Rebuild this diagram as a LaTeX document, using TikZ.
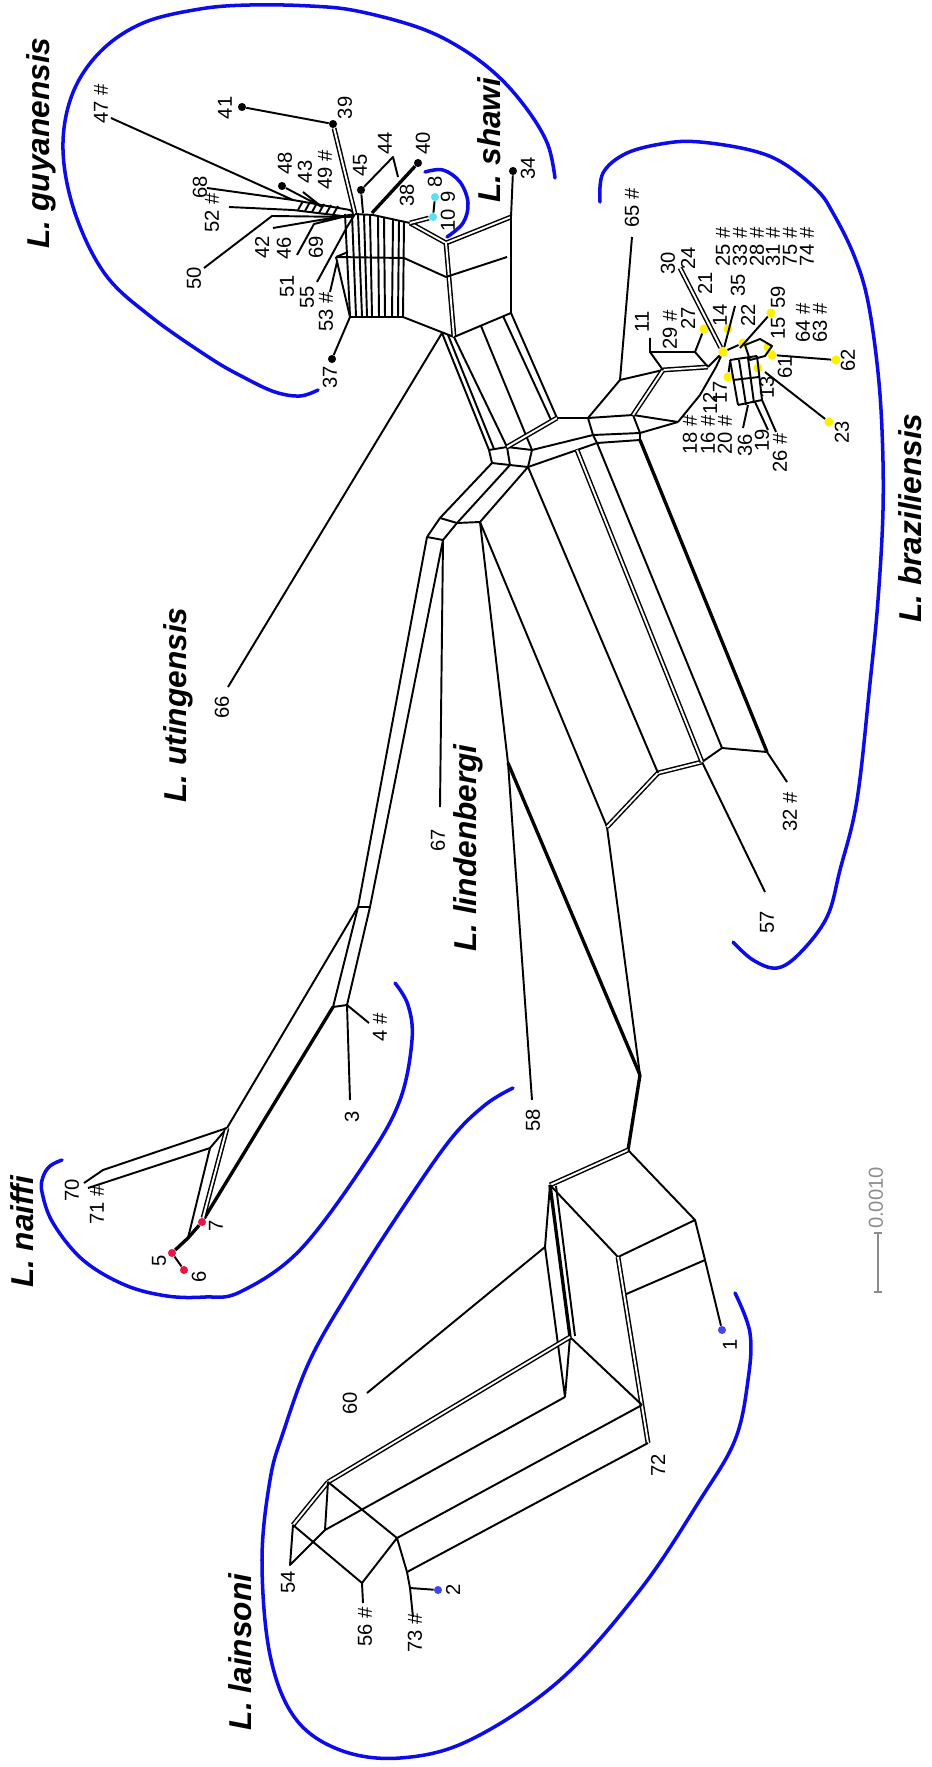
\documentclass[tikz,border=0pt]{standalone}
\usepackage{fontspec}
\setmainfont{Liberation Sans}
\usetikzlibrary{arrows.meta}
\definecolor{hullblue}{RGB}{12,12,235}
\definecolor{dotyellow}{RGB}{255,240,0}
\definecolor{dotcyan}{RGB}{90,225,240}
\definecolor{dotred}{RGB}{235,20,70}
\definecolor{dotblue}{RGB}{70,70,240}
\definecolor{bargray}{RGB}{140,140,140}

\begin{document}
\begin{tikzpicture}[x=0.02cm, y=-0.02cm,
  net/.style={line width=1.1pt, line join=round},
  heavy/.style={line width=1.9pt, line join=round},
  dbl/.style={double, double distance=1.1pt, line width=0.85pt},
  hull/.style={hullblue, line width=2pt, line cap=round},
  lbl/.style={font=\fontsize{11.5}{13}\selectfont, rotate=90, inner sep=0pt},
  spec/.style={font=\fontsize{18}{20}\selectfont\bfseries\itshape, rotate=90, inner sep=0pt},
  leaf/.style={circle, fill=#1, inner sep=0pt, minimum size=4.6pt},
  leaf/.default=black,
  ydot/.style={leaf=dotyellow, minimum size=5.2pt}]
  \useasboundingbox (0,0) rectangle (931,1767);

  \draw[hull] plot[smooth, tension=0.6] coordinates {(318,390) (300,396) (275,392) (245,378) (210,358) (150,316) (105,274) (75,213) (63,150) (72,95) (100,52) (143,23) (200,9) (250,5) (310,6) (357,11) (420,28) (464,50) (500,78) (529,112) (548,145) (555,178)};
  \draw[hull] plot[smooth, tension=0.6] coordinates {(425,172) (443,170) (460,182) (468,203) (463,223) (447,237)};
  \draw[hull] plot[smooth, tension=0.6] coordinates {(600,202) (603,173) (627,153) (667,143) (700,142) (750,150) (783,163) (817,190) (833,213) (853,253) (867,297) (877,363) (882,430) (883,510) (878,600) (870,683) (857,800) (840,870) (827,917) (800,953) (777,968) (753,960) (733,942)};
  \draw[hull] plot[smooth, tension=0.6] coordinates {(62,1160) (50,1166) (43,1177) (42,1192) (53,1223) (83,1260) (125,1285) (167,1296) (205,1297) (240,1292) (300,1250) (367,1160) (400,1100) (412,1040) (408,1005) (395,983)};
  \draw[hull] plot[smooth, tension=0.6] coordinates {(735,1293) (750,1333) (748,1380) (735,1440) (700,1500) (640,1590) (560,1680) (470,1740) (400,1758) (340,1750) (295,1718) (270,1655) (262,1560) (270,1480) (283,1433) (310,1360) (350,1290) (400,1212) (450,1140) (485,1105) (513,1088)};

  \node[spec] (sguy) at (41,143) {L. guyanensis};
  \node[spec] (ssha) at (489,140) {L. shawi};
  \node[spec] (suti) at (178,705) {L. utingensis};
  \node[spec] (slin) at (468,848) {L. lindenbergi};
  \node[spec] (snai) at (22,1232) {L. naiffi};
  \node[spec] (slai) at (240,1652) {L. lainsoni};
  \node[spec] (sbra) at (910,518) {L. braziliensis};

  \node[leaf] (g41) at (242,107) {};
  \node[leaf] (g39) at (333,124) {};
  \node[leaf] (g48) at (282,186) {};
  \node[leaf] (g40) at (418,163) {};
  \node[leaf] (g45) at (361,190) {};
  \node[leaf] (g37) at (332,359) {};
  \node[leaf] (g34) at (513,171) {};
  \node[leaf=dotcyan] (g8) at (435,197) {};
  \node[leaf=dotcyan] (g10) at (433,217) {};

  \coordinate (gh) at (355,214);
  \coordinate (bt1) at (293,200);
  \coordinate (bt2) at (350,210);
  \coordinate (bb1) at (293,210);
  \coordinate (bb2) at (350,217);
  \coordinate (e47) at (111,118);
  \coordinate (e68) at (207,188);
  \coordinate (e52) at (229,207);
  \coordinate (e50) at (204,268);
  \coordinate (j50) at (272,216);
  \coordinate (e43) at (303,192);
  \coordinate (j48) at (322,207);
  \coordinate (e42) at (273,228);
  \coordinate (e69) at (297,255);
  \coordinate (j69) at (314,224);
  \coordinate (e55) at (317,282);
  \coordinate (j55) at (347,227);
  \coordinate (e53) at (330,292);
  \coordinate (j40) at (372,213);
  \coordinate (k44) at (393,157);
  \coordinate (k44b) at (398,177);
  \coordinate (j45) at (363,213);
  \coordinate (j37) at (350,317);
  \coordinate (p1) at (336,257);
  \coordinate (p2) at (348,252);
  \coordinate (p3) at (337,262);
  \coordinate (rt) at (373,215);
  \coordinate (rm) at (404,258);
  \coordinate (rb) at (403,317);
  \coordinate (R1) at (410,223);
  \coordinate (R2) at (446,243);
  \coordinate (R3) at (511,217);
  \coordinate (R4) at (446,277);
  \coordinate (R5) at (507,257);
  \coordinate (R6) at (454,337);
  \coordinate (R7) at (511,313);
  \coordinate (R7b) at (503,316);
  \coordinate (A1) at (442,333);
  \coordinate (A2) at (448,335);
  \coordinate (m0) at (481,326);
  \coordinate (e66) at (228,687);

  \draw[net] (e47) -- (bt1) (e68) -- (bt1) (e52) -- (bb1) (e50) -- (j50) -- (bb2);
  \draw[net] (bt1) -- (bt2) -- (gh) (bb1) -- (bb2) -- (gh);
  \draw[net] (298,210) -- (303,201) (305,211) -- (310,202) (312,212) -- (317,203) (319,213) -- (324,204) (326,214) -- (331,205) (333,215) -- (338,206);
  \draw[net] (g48) -- (j48) (e43) -- (j48);
  \draw[net] (e42) -- (gh) (e69) -- (j69) -- (gh) (e55) -- (j55) -- (gh);
  \draw[net] (g41) -- (g39);
  \draw[dbl] (g39) -- (gh);
  \draw[heavy] (g40) -- (j40);
  \draw[net] (g45) -- (j45) (g45) -- (k44) -- (k44b);
  \draw[net] (gh) -- (rt) -- (R1);
  \draw[net] (345,214) -- (350,316) (352,214) -- (356,316) (358,214) -- (362,316) (364,215) -- (367,316) (370,215) -- (372,316) (378,216) -- (379,317) (384,217) -- (385,317) (393,219) -- (392,317) (399,220) -- (398,317) (404,221) -- (403,317);
  \draw[net] (p1) -- (p2) (p1) -- (rm) -- (R4) (p1) -- (j37) -- (rb) -- (R6);
  \draw[net] (g37) -- (j37) (e53) -- (p3);
  \draw[dbl] (R1) -- (R2) -- (R3);
  \draw[dbl] (R2) -- (R6);
  \draw[net] (R3) -- (R7) -- (R6) (R4) -- (R5) (R3) -- (g34);
  \draw[dbl] (R1) -- (g10);
  \draw[net] (g10) -- (g8);

  \coordinate (X1) at (489,450);
  \coordinate (X1b) at (494,449);
  \coordinate (X2) at (507,447);
  \coordinate (X3) at (532,450);
  \coordinate (X4) at (528,467);
  \coordinate (X5) at (510,465);
  \coordinate (X6) at (492,463);
  \coordinate (Q1) at (557,418);
  \coordinate (Q1b) at (551,420);
  \coordinate (M1) at (588,418);
  \coordinate (M2) at (633,415);
  \coordinate (M3) at (678,422);
  \coordinate (Y2) at (593,435);
  \coordinate (Y3) at (640,433);
  \coordinate (Z1) at (577,450);
  \coordinate (Z2) at (597,443);
  \coordinate (Z3) at (640,440);

  \draw[net] (A1) -- (X1) (A2) -- (X1b) (R6) -- (X2);
  \draw[net] (e66) -- (A1);
  \draw[net] (m0) -- (X3);
  \draw[net] (R7) -- (Q1) (R7b) -- (Q1b);
  \draw[net] (X1) -- (X2) -- (X3) -- (X4) -- (X5) -- (X6) -- cycle (X2) -- (X5);
  \draw[dbl] (X2) -- (Q1);
  \draw[net] (Q1) -- (M1) (M1) -- (M2) (M2) -- (M3);
  \draw[net] (X3) -- (Y2) -- (Y3) -- (M3);
  \draw[net] (X4) -- (Z1) -- (Z2) -- (Z3);
  \draw[net] (M1) -- (Y2) -- (Z2) (M2) -- (Y3) -- (Z3);

  \node[ydot] (BH) at (723,352) {};
  \node[ydot] (b27) at (704,329) {};
  \node[ydot] (b14) at (728,329) {};
  \node[ydot] (b22) at (743,343) {};
  \node[ydot] (b59) at (771,313) {};
  \node[ydot] (b15a) at (768,347) {};
  \node[ydot] (b15b) at (772,355) {};
  \node[ydot] (b13) at (758,368) {};
  \node[ydot] (b17) at (728,377) {};
  \node[ydot] (b62) at (836,360) {};
  \node[ydot] (b23) at (829,422) {};

  \coordinate (K1) at (620,380);
  \coordinate (K2) at (663,370);
  \coordinate (K3) at (708,367);
  \coordinate (K4) at (650,352);
  \coordinate (K5) at (695,352);
  \coordinate (e65) at (632,237);
  \coordinate (e29) at (650,338);
  \coordinate (c1) at (700,395);
  \coordinate (c2) at (716,367);
  \coordinate (e30) at (680,268);
  \coordinate (e14) at (735,306);
  \coordinate (c59) at (740,348);
  \coordinate (c23) at (765,372);
  \coordinate (e36) at (743,428);
  \coordinate (e19) at (768,430);
  \coordinate (e26) at (776,432);

  \draw[net] (M1) -- (K1) -- (K2) (K1) -- (e65);
  \draw[dbl] (K2) -- (K3);
  \draw[dbl] (K2) -- (M2);
  \draw[net] (K2) -- (K4) -- (K5) -- (K3) (K4) -- (e29) (K5) -- (b27);
  \draw[net] (K3) -- (BH) (M3) -- (c1) -- (c2) -- (BH);
  \draw[dbl] (e30) -- (BH);
  \draw[net] (BH) -- (e14) (BH) -- (b22) (b59) -- (c59);
  \draw[net] (745,345) -- (760,339) -- (772,346) -- (765,356) -- (750,360) -- cycle;
  \draw[net] (b62) -- (b15b) (b23) -- (c23) (b17) -- (730,362);
  \draw[net] (730,360) -- (738,405) (739,360) -- (746,405) (748,358) -- (754,403) (757,356) -- (762,400);
  \draw[net] (733,380) -- (759,377) (738,405) -- (762,400) (730,360) -- (757,356);
  \draw[net] (748,405) -- (e36) (755,402) -- (e19) (762,400) -- (e26);

  \coordinate (U1) at (440,518);
  \coordinate (U2) at (427,537);
  \coordinate (U3) at (457,523);
  \coordinate (U4) at (443,540);
  \coordinate (LJ0) at (480,522);
  \coordinate (V1) at (358,907);
  \coordinate (V2) at (370,907);
  \coordinate (W1) at (333,1007);
  \coordinate (W2) at (347,1005);
  \coordinate (e67) at (440,807);
  \coordinate (e3) at (350,1100);
  \coordinate (e4) at (369,1023);
  \coordinate (N1) at (227,1128);
  \coordinate (N2) at (210,1148);
  \coordinate (J5) at (188,1238);
  \coordinate (K70) at (103,1170);
  \coordinate (e70) at (84,1183);
  \coordinate (e71) at (88,1188);
  \node[leaf=dotred] (n7) at (202,1222) {};
  \node[leaf=dotred] (n5) at (172,1253) {};
  \node[leaf=dotred] (n6) at (184,1270) {};

  \draw[net] (X6) -- (U1) -- (U2) (X5) -- (U3) -- (U4) (X4) -- (LJ0);
  \draw[net] (U1) -- (U3) -- (LJ0) (U2) -- (U4);
  \draw[net] (U2) -- (V1) (U4) -- (V2) (V1) -- (V2) (V1) -- (W1) (V2) -- (W2) (W1) -- (W2);
  \draw[net] (U4) -- (e67) (W2) -- (e3) (W2) -- (e4);
  \draw[net] (V1) -- (N1) (N1) -- (N2) (N2) -- (J5);
  \draw[heavy] (W1) -- (n7);
  \draw[dbl] (N1) -- (n7);
  \draw[heavy] (n7) -- (J5) -- (n5);
  \draw[net] (n5) -- (n6);
  \draw[net] (N1) -- (K70) -- (e70) (N2) -- (e71);

  \coordinate (J58) at (508,763);
  \coordinate (e58) at (532,1100);
  \coordinate (LJ) at (640,1075);
  \coordinate (J57L) at (607,827);
  \coordinate (J57a) at (658,773);
  \coordinate (J57b) at (702,762);
  \coordinate (J57c) at (722,748);
  \coordinate (J57d) at (767,752);
  \coordinate (e57) at (765,892);
  \coordinate (e32) at (787,782);

  \draw[net] (LJ0) -- (J58) -- (e58) (LJ0) -- (J57L) -- (LJ);
  \draw[heavy] (J58) -- (LJ);
  \draw[dbl] (J57L) -- (J57a) -- (J57b);
  \draw[net] (J57b) -- (J57c) -- (J57d) (J57b) -- (e57) (J57d) -- (e32);
  \draw[net] (X4) -- (J57a) (Z2) -- (J57c);
  \draw[dbl] (Z1) -- (J57b);
  \draw[heavy] (Z3) -- (J57d);

  \coordinate (A) at (628,1150);
  \coordinate (B) at (550,1185);
  \coordinate (C) at (695,1220);
  \coordinate (D) at (618,1257);
  \coordinate (E) at (705,1260);
  \coordinate (F) at (624,1295);
  \coordinate (I) at (642,1405);
  \coordinate (G72) at (648,1443);
  \coordinate (H) at (570,1337);
  \coordinate (Hb) at (565,1397);
  \coordinate (S60) at (545,1247);
  \coordinate (e60) at (367,1393);
  \coordinate (P1) at (328,1482);
  \coordinate (P1b) at (325,1530);
  \coordinate (P2) at (293,1525);
  \coordinate (e54) at (290,1565);
  \coordinate (P4) at (397,1538);
  \coordinate (P5) at (362,1583);
  \coordinate (e56) at (363,1603);
  \coordinate (P6) at (407,1572);
  \coordinate (J2) at (410,1588);
  \coordinate (e73) at (413,1617);
  \node[leaf=dotblue] (n1) at (722,1330) {};
  \node[leaf=dotblue] (n2) at (438,1590) {};

  \draw[heavy] (LJ) -- (A);
  \draw[dbl] (A) -- (B);
  \draw[net] (A) -- (C) -- (D) -- (B) (C) -- (E) -- (n1) (E) -- (F);
  \draw[dbl] (D) -- (G72);
  \draw[heavy] (B) -- (H);
  \draw[net] (556,1186) -- (575,1336);
  \draw[net] (B) -- (S60) -- (Hb) (H) -- (Hb) (H) -- (I) (S60) -- (e60);
  \draw[dbl] (H) -- (P1);
  \draw[net] (Hb) -- (P1b) (I) -- (P4) (G72) -- (P6);
  \draw[dbl] (P1) -- (P2);
  \draw[net] (P2) -- (e54) -- (P1b) -- (P1) (P1) -- (P4) (P2) -- (P5) -- (P4) -- (P6) -- (J2) -- (e73) (P5) -- (e56);
  \draw[net] (J2) -- (n2);

  \coordinate (sb1) at (878,1293);
  \coordinate (sb2) at (878,1232);
  \draw[bargray, line width=1pt, {Bar[width=5pt]}-{Bar[width=5pt]}] (sb1) -- (sb2);
  \node[lbl, text=bargray] (lsb) at (876,1198) {0.0010};

  \node[lbl] (l47) at (101,104) {47 \#};
  \node[lbl] (l41) at (225,108) {41};
  \node[lbl] (l39) at (345,108) {39};
  \node[lbl] (l48) at (285,163) {48};
  \node[lbl] (l43) at (305,172) {43};
  \node[lbl] (l49) at (325,170) {49 \#};
  \node[lbl] (l45) at (360,165) {45};
  \node[lbl] (l44) at (385,143) {44};
  \node[lbl] (l40) at (423,143) {40};
  \node[lbl] (l38) at (407,195) {38};
  \node[lbl] (l8) at (435,182) {8};
  \node[lbl] (l9) at (448,197) {9};
  \node[lbl] (l10) at (448,220) {10};
  \node[lbl] (l34) at (528,168) {34};
  \node[lbl] (l68) at (200,187) {68};
  \node[lbl] (l52) at (212,213) {52 \#};
  \node[lbl] (l50) at (194,278) {50};
  \node[lbl] (l42) at (262,247) {42};
  \node[lbl] (l46) at (284,248) {46};
  \node[lbl] (l69) at (316,247) {69};
  \node[lbl] (l51) at (287,286) {51};
  \node[lbl] (l55) at (307,297) {55};
  \node[lbl] (l53) at (326,312) {53 \#};
  \node[lbl] (l37) at (330,377) {37};

  \node[lbl] (l65) at (632,208) {65 \#};
  \node[lbl] (l11) at (642,322) {11};
  \node[lbl] (l29) at (670,330) {29 \#};
  \node[lbl] (l27) at (688,318) {27};
  \node[lbl] (l30) at (668,263) {30};
  \node[lbl] (l24) at (688,258) {24};
  \node[lbl] (l21) at (705,283) {21};
  \node[lbl] (l14) at (720,315) {14};
  \node[lbl] (l35) at (738,285) {35};
  \node[lbl] (l22) at (748,315) {22};
  \node[lbl] (l59) at (778,297) {59};
  \node[lbl] (l15) at (778,328) {15};
  \node[lbl] (l25) at (723,247) {25 \#};
  \node[lbl] (l33) at (740,247) {33 \#};
  \node[lbl] (l28) at (757,247) {28 \#};
  \node[lbl] (l31) at (773,247) {31 \#};
  \node[lbl] (l75) at (790,247) {75 \#};
  \node[lbl] (l74) at (807,247) {74 \#};
  \node[lbl] (l64) at (803,323) {64 \#};
  \node[lbl] (l63) at (820,323) {63 \#};
  \node[lbl] (l62) at (848,360) {62};
  \node[lbl] (l61) at (785,367) {61};
  \node[lbl] (l13) at (767,387) {13};
  \node[lbl] (l23) at (842,432) {23};
  \node[lbl] (l17) at (720,392) {17};
  \node[lbl] (l12) at (710,403) {12};
  \node[lbl] (l18) at (690,435) {18 \#};
  \node[lbl] (l16) at (708,435) {16 \#};
  \node[lbl] (l20) at (725,435) {20 \#};
  \node[lbl] (l36) at (745,445) {36};
  \node[lbl] (l19) at (762,440) {19};
  \node[lbl] (l26) at (780,453) {26 \#};

  \node[lbl] (l66) at (222,707) {66};
  \node[lbl] (l67) at (438,840) {67};
  \node[lbl] (l57) at (767,922) {57};
  \node[lbl] (l32) at (790,812) {32 \#};
  \node[lbl] (l58) at (533,1120) {58};
  \node[lbl] (l3) at (352,1117) {3};
  \node[lbl] (l4) at (380,1027) {4 \#};
  \node[lbl] (l7) at (216,1226) {7};
  \node[lbl] (l5) at (159,1261) {5};
  \node[lbl] (l6) at (199,1277) {6};
  \node[lbl] (l70) at (72,1190) {70};
  \node[lbl] (l71) at (97,1205) {71 \#};
  \node[lbl] (l60) at (350,1403) {60};
  \node[lbl] (l1) at (730,1345) {1};
  \node[lbl] (l72) at (658,1465) {72};
  \node[lbl] (l54) at (288,1582) {54};
  \node[lbl] (l56) at (365,1627) {56 \#};
  \node[lbl] (l73) at (415,1633) {73 \#};
  \node[lbl] (l2) at (453,1590) {2};
\end{tikzpicture}
\end{document}
